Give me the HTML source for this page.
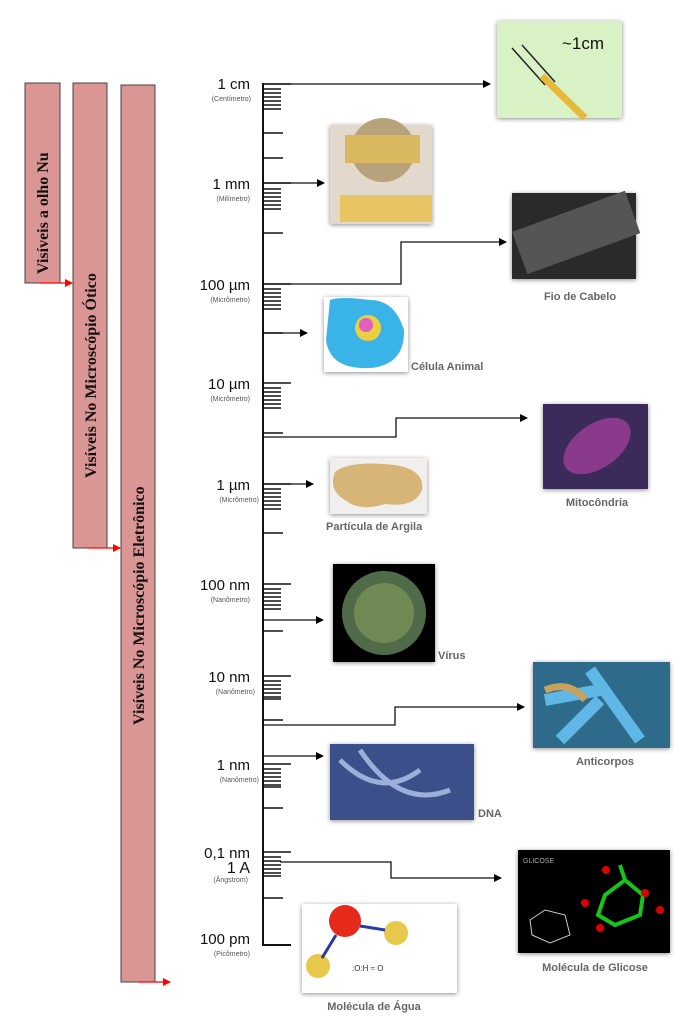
<!DOCTYPE html>
<html><head><meta charset="utf-8"><style>
html,body{margin:0;padding:0;background:#fff;}
svg{display:block;}
.u{font-family:"Liberation Sans",sans-serif;font-size:15px;fill:#111;text-anchor:end;}
.s{font-family:"Liberation Sans",sans-serif;font-size:7px;fill:#555;text-anchor:end;}
.b{font-family:"Liberation Serif",serif;font-weight:bold;font-size:16px;fill:#111;}
.l{font-family:"Liberation Sans",sans-serif;font-weight:bold;font-size:11px;fill:#666;}
</style></head><body>
<svg width="693" height="1023" viewBox="0 0 693 1023" xmlns="http://www.w3.org/2000/svg">
<defs>
<marker id="ar" markerWidth="8" markerHeight="8" refX="7" refY="4" orient="auto" markerUnits="userSpaceOnUse"><path d="M0,0 L8,4 L0,8 z" fill="#000"/></marker>
<marker id="rr" markerWidth="8" markerHeight="8" refX="7" refY="4" orient="auto" markerUnits="userSpaceOnUse"><path d="M0,0 L8,4 L0,8 z" fill="#f00"/></marker>
<filter id="sh" x="-10%" y="-10%" width="120%" height="120%"><feDropShadow dx="0" dy="1" stdDeviation="2.5" flood-opacity="0.45"/></filter>
</defs>
<!-- left bars -->
<rect x="25" y="83" width="35" height="200" fill="#d99694" stroke="#444" stroke-width="1"/>
<rect x="73" y="83" width="34" height="465" fill="#d99694" stroke="#444" stroke-width="1"/>
<rect x="121" y="85" width="34" height="897" fill="#d99694" stroke="#444" stroke-width="1"/>
<text class="b" transform="translate(48,274) rotate(-90)">Visíveis a olho Nu</text>
<text class="b" transform="translate(96,478) rotate(-90)">Visíveis No Microscópio Ótico</text>
<text class="b" transform="translate(144,725) rotate(-90)">Visíveis No Microscópio Eletrônico</text>
<line x1="40" y1="283" x2="72" y2="283" stroke="#f00" stroke-width="1.3" marker-end="url(#rr)"/>
<line x1="88" y1="548" x2="120" y2="548" stroke="#f00" stroke-width="1.3" marker-end="url(#rr)"/>
<line x1="138" y1="982" x2="170" y2="982" stroke="#f00" stroke-width="1.3" marker-end="url(#rr)"/>
<!-- axis -->
<g stroke="#111" stroke-width="2">
<line x1="263" y1="83" x2="263" y2="946"/>
<line x1="263" y1="945" x2="291" y2="945"/>
</g>
<g stroke="#111" stroke-width="1.6">
<!-- majors -->
<path d="M263 84H291M263 183H291M263 284H291M263 383H291M263 484H291M263 584H291M263 676H291M263 764H291M263 852H291"/>
<!-- singles -->
<path d="M263 133H283M263 158H283M263 233H283M263 333H283M263 433H283M263 533H283M263 631H283M263 720H283M263 808H283M263 898H283"/>
<!-- clusters -->
<path d="M263 89H281M263 93H281M263 97H281M263 101H281M263 105H281M263 109H281
M263 189H281M263 193H281M263 197H281M263 201H281M263 205H281M263 209H281
M263 289H281M263 293H281M263 297H281M263 301H281M263 305H281M263 309H281
M263 388H281M263 392H281M263 396H281M263 400H281M263 404H281M263 408H281
M263 489H281M263 493H281M263 497H281M263 501H281M263 505H281M263 509H281
M263 589H281M263 593H281M263 597H281M263 601H281M263 605H281M263 609H281
M263 681H281M263 685H281M263 689H281M263 693H281M263 697H281M263 699H281
M263 769H281M263 773H281M263 777H281M263 781H281M263 785H281M263 787H281
M263 857H281M263 861H281M263 865H281M263 869H281M263 873H281M263 876H281"/>
</g>
<!-- unit labels -->
<text class="u" x="250" y="89">1 cm</text><text class="s" x="251" y="101">(Centímetro)</text>
<text class="u" x="250" y="189">1 mm</text><text class="s" x="250" y="201">(Milímetro)</text>
<text class="u" x="250" y="290">100 µm</text><text class="s" x="250" y="302">(Micrômetro)</text>
<text class="u" x="250" y="389">10 µm</text><text class="s" x="250" y="401">(Micrômetro)</text>
<text class="u" x="250" y="490">1 µm</text><text class="s" x="259" y="502">(Micrômetro)</text>
<text class="u" x="250" y="590">100 nm</text><text class="s" x="250" y="602">(Nanômetro)</text>
<text class="u" x="250" y="682">10 nm</text><text class="s" x="255" y="694">(Nanômetro)</text>
<text class="u" x="250" y="770">1 nm</text><text class="s" x="259" y="782">(Nanômetro)</text>
<text class="u" x="250" y="858">0,1 nm</text><text class="u" x="250" y="873" style="font-size:16px">1 A</text><text class="s" x="248" y="882">(Ângstrom)</text>
<text class="u" x="250" y="944">100 pm</text><text class="s" x="250" y="956">(Picômetro)</text>
<!-- connectors -->
<g stroke="#111" stroke-width="1.3" fill="none" marker-end="url(#ar)">
<path d="M263 84H490"/>
<path d="M263 183H324"/>
<path d="M263 284H401V242H506"/>
<path d="M263 333H307"/>
<path d="M263 437H396V418H527"/>
<path d="M263 484H313"/>
<path d="M263 620H323"/>
<path d="M263 725H395V707H524"/>
<path d="M263 756H323"/>
<path d="M280 862H391V878H501"/>
</g>
<!-- images -->
<g filter="url(#sh)">
<rect x="497" y="21" width="125" height="97" fill="#d8f2c6"/>
<rect x="330" y="125" width="102" height="99" fill="#e3d8cc"/>
<rect x="512" y="193" width="124" height="86" fill="#2b2b2b"/>
<rect x="324" y="297" width="84" height="75" fill="#fff"/>
<rect x="543" y="404" width="105" height="85" fill="#3a2a5a"/>
<rect x="330" y="458" width="97" height="56" fill="#f0efed"/>
<rect x="333" y="564" width="102" height="98" fill="#050505"/>
<rect x="533" y="662" width="137" height="86" fill="#2e6a8a"/>
<rect x="330" y="744" width="144" height="76" fill="#3b4f8a"/>
<rect x="518" y="850" width="152" height="103" fill="#050505"/>
<rect x="302" y="904" width="155" height="89" fill="#fff"/>
</g>
<!-- image details -->
<line x1="512" y1="48" x2="545" y2="85" stroke="#222" stroke-width="1.5"/>
<line x1="522" y1="45" x2="555" y2="82" stroke="#222" stroke-width="1.5"/>
<line x1="542" y1="76" x2="585" y2="118" stroke="#e6b93a" stroke-width="7"/>
<text x="562" y="49" font-family="Liberation Sans,sans-serif" font-size="17" fill="#111">~1cm</text>
<circle cx="383" cy="150" r="32" fill="#b8a27c"/>
<rect x="345" y="135" width="75" height="28" fill="#d9b860"/>
<rect x="340" y="195" width="92" height="27" fill="#e8c562"/>
<path d="M330 300 Q340 296 370 300 Q395 300 404 330 Q405 365 370 368 Q330 370 326 340 Z" fill="#3ab3e8"/>
<circle cx="368" cy="328" r="13" fill="#e8d040"/><circle cx="366" cy="325" r="7" fill="#e060c0"/>
<rect x="516" y="210" width="120" height="45" fill="#555" transform="rotate(-20 576 232)"/>
<ellipse cx="597" cy="446" rx="38" ry="22" fill="#8a3a8a" transform="rotate(-35 597 446)"/>
<path d="M335 472 Q350 460 395 465 Q425 470 422 490 Q415 508 385 504 Q360 512 345 500 Q328 490 335 472 Z" fill="#d6b577"/>
<circle cx="384" cy="613" r="42" fill="#4f6b4a"/>
<circle cx="384" cy="613" r="30" fill="#6f8a55"/>
<path d="M545 700 L600 690 M590 670 L640 740 M560 740 L600 700" stroke="#5fb7e5" stroke-width="12" fill="none"/>
<path d="M545 690 Q570 680 585 700" stroke="#c8a25a" stroke-width="7" fill="none"/>
<path d="M340 760 Q380 800 420 770 M360 750 Q400 810 450 790" stroke="#9ab0d8" stroke-width="5" fill="none"/>
<text x="523" y="863" font-family="Liberation Sans,sans-serif" font-size="7" fill="#aaa">GLICOSE</text>
<path d="M605 895 L625 880 L643 895 L640 915 L615 925 L598 915 Z M625 880 L620 865" stroke="#19c419" stroke-width="4" fill="none"/>
<circle cx="606" cy="870" r="4" fill="#d00"/><circle cx="645" cy="893" r="4" fill="#d00"/><circle cx="585" cy="903" r="4" fill="#d00"/><circle cx="660" cy="910" r="4" fill="#d00"/><circle cx="600" cy="928" r="4" fill="#d00"/>
<path d="M530 920 L545 910 L565 915 L570 935 L550 943 L532 935 Z" stroke="#ccc" stroke-width="1" fill="none"/>
<circle cx="345" cy="921" r="16" fill="#e52a1a"/>
<circle cx="396" cy="933" r="12" fill="#e8c84a"/>
<circle cx="318" cy="966" r="12" fill="#e8c84a"/>
<line x1="336" y1="935" x2="322" y2="958" stroke="#2a3aa0" stroke-width="3"/>
<line x1="360" y1="926" x2="385" y2="930" stroke="#2a3aa0" stroke-width="3"/>
<text x="352" y="971" font-family="Liberation Sans,sans-serif" font-size="8" fill="#333">:O:H   ≈   O</text>
<!-- captions -->
<text class="l" x="580" y="300" text-anchor="middle">Fio de Cabelo</text>
<text class="l" x="411" y="370">Célula Animal</text>
<text class="l" x="597" y="506" text-anchor="middle">Mitocôndria</text>
<text class="l" x="326" y="530">Partícula de Argila</text>
<text class="l" x="438" y="659">Vírus</text>
<text class="l" x="605" y="765" text-anchor="middle">Anticorpos</text>
<text class="l" x="478" y="817">DNA</text>
<text class="l" x="595" y="971" text-anchor="middle">Molécula de Glicose</text>
<text class="l" x="374" y="1010" text-anchor="middle">Molécula de Água</text>
</svg>
</body></html>
